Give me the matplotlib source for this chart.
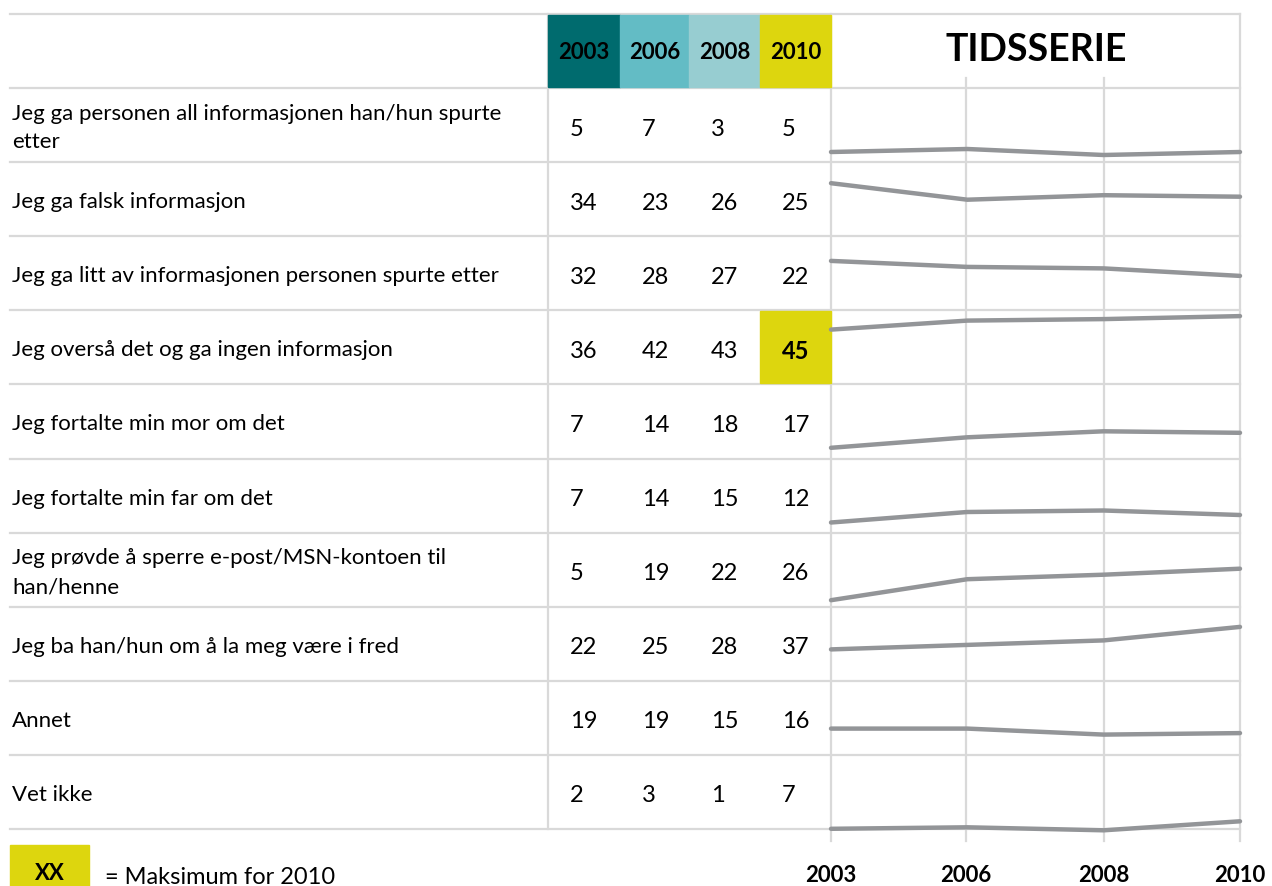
import matplotlib.pyplot as plt
from matplotlib.patches import Rectangle
import numpy as np

# data
years = ['2003', '2006', '2008', '2010']
labels = [
    'Jeg ga personen all informasjonen han/hun spurte\netter',
    'Jeg ga falsk informasjon',
    'Jeg ga litt av informasjonen personen spurte etter',
    'Jeg overså det og ga ingen informasjon',
    'Jeg fortalte min mor om det',
    'Jeg fortalte min far om det',
    'Jeg prøvde å sperre e-post/MSN-kontoen til\nhan/henne',
    'Jeg ba han/hun om å la meg være i fred',
    'Annet',
    'Vet ikke',
]
v2003 = [5, 34, 32, 36, 7, 7, 5, 22, 19, 2]
v2006 = [7, 23, 28, 42, 14, 14, 19, 25, 19, 3]
v2008 = [3, 26, 27, 43, 18, 15, 22, 28, 15, 1]
v2010 = [5, 25, 22, 45, 17, 12, 26, 37, 16, 7]

header_colors = ['#006B6E', '#63BCC5', '#97CDD1', '#DDD60E']
grid_c = '#D9D9D9'
line_c = '#939598'
FONT = 'Lato'

W, H = 1272, 886
fig = plt.figure(figsize=(W / 100, H / 100), dpi=100)
ax = fig.add_axes([0, 0, 1, 1])
ax.set_xlim(0, W)
ax.set_ylim(H, 0)
ax.axis('off')

# layout (pixels)
left, table_right = 10, 1240
top, head_bot = 14, 88
n = len(labels)
row_h = 74.1
col_x = [548, 620, 689, 760, 831]
spark_x = [831, 966, 1104, 1240]
bottom = head_bot + n * row_h

# grid
for i in range(n + 1):
    y = head_bot + i * row_h
    ax.plot([left, table_right], [y, y], color=grid_c, lw=1.6, zorder=1)
ax.plot([left, table_right], [top, top], color=grid_c, lw=1.6, zorder=1)
ax.plot([548, 548], [top, bottom], color=grid_c, lw=1.6, zorder=1)
ax.plot([831, 831], [top, bottom + 12], color=grid_c, lw=1.6, zorder=1)
ax.plot([1240, 1240], [top, bottom + 12], color=grid_c, lw=1.6, zorder=1)
for x in spark_x[1:3]:
    ax.plot([x, x], [78, bottom + 12], color=grid_c, lw=1.6, zorder=1)

# header
for j, yr in enumerate(years):
    ax.add_patch(Rectangle((col_x[j], top + 1), col_x[j + 1] - col_x[j], head_bot - top - 2,
                           color=header_colors[j], zorder=2))
    ax.text((col_x[j] + col_x[j + 1]) / 2, 52, yr, ha='center', va='center',
            fontsize=16, fontweight='bold', family=FONT, zorder=3)
ax.text(1036, 50, 'TIDSSERIE', ha='center', va='center', fontsize=27,
        fontweight='bold', family=FONT)

# rows
cols = [v2003, v2006, v2008, v2010]
imax = int(np.argmax(v2010))
for i, lab in enumerate(labels):
    yc = head_bot + (i + 0.5) * row_h
    ax.text(12, yc + 3, lab, ha='left', va='center', fontsize=16, family=FONT,
            linespacing=1.55)
    for j, col in enumerate(cols):
        bold = (j == 3 and i == imax)
        if bold:
            ax.add_patch(Rectangle((col_x[j], head_bot + i * row_h + 1),
                                   col_x[j + 1] - col_x[j], row_h - 2,
                                   color=header_colors[3], zorder=2))
        ax.text(col_x[j] + 22, yc + 4, str(col[i]), ha='left', va='center',
                fontsize=17, family=FONT, fontweight='bold' if bold else 'normal', zorder=3)

# legend
ax.add_patch(Rectangle((10, 845), 79, 41, color=header_colors[3]))
ax.text(49.5, 874, 'XX', ha='center', va='center', fontsize=16, fontweight='bold', family=FONT)
ax.text(105, 877, '= Maksimum for 2010', ha='left', va='center', fontsize=17, family=FONT)

# sparkline panel: each row gets its own band, 1.5 px per unit
band = 74.7
sp_top, sp_bot = 84.8, 84.8 + n * band
sax = fig.add_axes([831 / W, (H - sp_bot) / H, (1240 - 831) / W, (sp_bot - sp_top) / H])
row_units = band / 1.5
sax.set_xlim(0, 3)
sax.set_ylim(-n * row_units, 0)
sax.axis('off')
xs = np.arange(len(years))
for i in range(n):
    vals = np.array([c[i] for c in cols])
    sax.plot(xs, vals - (i + 1) * row_units, color=line_c, lw=3.2,
             solid_capstyle='round', solid_joinstyle='round', clip_on=False)

for x, yr in zip(spark_x, years):
    ax.text(x, 876, yr, ha='center', va='center', fontsize=16, fontweight='bold', family=FONT)

fig.savefig('out.png', dpi=100)
